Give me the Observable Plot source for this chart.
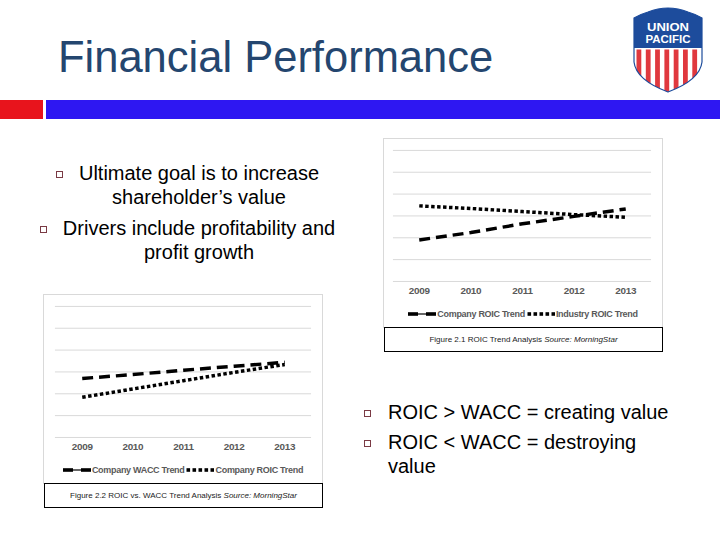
<!DOCTYPE html>
<html>
<head>
<meta charset="utf-8">
<script src="https://cdn.jsdelivr.net/npm/d3@7"></script>
<script src="https://cdn.jsdelivr.net/npm/@observablehq/plot@0.6"></script>
<style>
  html, body { margin: 0; padding: 0; background: #fff; }
  body { width: 720px; height: 540px; position: relative; overflow: hidden;
         font-family: "Liberation Sans", Arial, sans-serif; }
  #slide { position: absolute; left: 0; top: 0; }
  .frame { position: absolute; width: 280px; height: 190px; box-sizing: border-box;
           border: 1px solid #d9d9d9; background: #fff; }
  .frame svg.plot { position: absolute; left: -1px; top: -1px; overflow: visible; }
  .frame svg.plot text { letter-spacing: -0.3px; }
  .legend { position: absolute; left: -1px; width: 280px; top: 168px; height: 14px;
            display: flex; justify-content: center; align-items: center;
            font-size: 9px; font-weight: bold; color: #595959; letter-spacing: -0.3px; }
  .legend .item { display: flex; align-items: center; margin: 0 1px; }
  .legend svg { display: block; margin-right: 1px; }
  .caption { position: absolute; width: 279px; height: 25px; box-sizing: border-box;
             border: 1px solid #000; background: #fff; text-align: center;
             font-size: 8px; line-height: 23px; color: #222; white-space: nowrap; }
  .caption i { font-style: italic; }
</style>
</head>
<body>
<svg id="slide" width="720" height="540" xmlns="http://www.w3.org/2000/svg">
  <defs>
    <clipPath id="shieldClip">
      <path d="M634,18 Q641,14 648,12 Q668,4 688,12 Q695,14 702,18 L702,62 Q700,80 668,92 Q636,80 634,62 Z"/>
    </clipPath>
  </defs>
  <text x="58" y="72" font-size="43.5" fill="#24466f">Financial Performance</text>
  <rect x="0" y="100" width="43" height="19" fill="#e8141c"/>
  <rect x="46" y="100" width="674" height="19" fill="#2e17f2"/>

  <!-- Union Pacific shield -->
  <g clip-path="url(#shieldClip)">
    <rect x="630" y="4" width="76" height="92" fill="#fff"/>
    <rect x="630" y="4" width="76" height="44" fill="#1d4c9c"/>
    <g id="stripes" fill="#e0383e"></g>
  </g>
  <path d="M634,18 Q641,14 648,12 Q668,4 688,12 Q695,14 702,18 L702,62 Q700,80 668,92 Q636,80 634,62 Z"
        fill="none" stroke="#1d4c9c" stroke-width="1.2"/>
  <text x="668" y="31" font-size="10.5" font-weight="bold" fill="#fff" text-anchor="middle"
        textLength="42" lengthAdjust="spacingAndGlyphs">UNION</text>
  <text x="668" y="43" font-size="10.5" font-weight="bold" fill="#fff" text-anchor="middle"
        textLength="45" lengthAdjust="spacingAndGlyphs">PACIFIC</text>

  <!-- bullet points -->
  <g font-size="20" fill="#000">
    <rect x="56.5" y="171.5" width="6" height="6" fill="#fff" stroke="#7a3a44"/>
    <text x="199" y="180" text-anchor="middle">Ultimate goal is to increase</text>
    <text x="199" y="203.5" text-anchor="middle">shareholder’s value</text>
    <rect x="40.5" y="226.5" width="6" height="6" fill="#fff" stroke="#7a3a44"/>
    <text x="199" y="235" text-anchor="middle">Drivers include profitability and</text>
    <text x="199" y="258.5" text-anchor="middle">profit growth</text>

    <rect x="364.5" y="410.5" width="6" height="6" fill="#fff" stroke="#7a3a44"/>
    <text x="388" y="419">ROIC &gt; WACC = creating value</text>
    <rect x="364.5" y="440.5" width="6" height="6" fill="#fff" stroke="#7a3a44"/>
    <text x="388" y="449">ROIC &lt; WACC = destroying</text>
    <text x="388" y="473">value</text>
  </g>
</svg>

<script>
// Years on the category axis
const years = ["2009", "2010", "2011", "2012", "2013"];

// Figure 2.1: ROIC trend, company vs industry (%)
const companyRoic = [9.5, 11.2, 13.2, 14.9, 16.6];
const industryRoic = [17.3, 16.7, 16.0, 15.3, 14.7];

// Figure 2.2: company WACC vs company ROIC (%)
const companyWacc = [13.5, 14.4, 15.4, 16.3, 17.2];
const companyRoic2 = [9.2, 11.1, 13.0, 14.9, 16.7];

// Horizontal gridlines
const yTicks = [0, 5, 10, 15, 20, 25, 30];

const DASH = "11,6";
const DOT = "3.5,2.5";

// shield stripes
(function () {
  const g = document.getElementById("stripes");
  for (let i = 0; i < 7; i++) {
    const r = document.createElementNS("http://www.w3.org/2000/svg", "rect");
    r.setAttribute("x", 636.5 + i * 9.3);
    r.setAttribute("y", 49.5);
    r.setAttribute("width", 4.8);
    r.setAttribute("height", 46);
    g.appendChild(r);
  }
})();

function legendSample(style) {
  const ns = "http://www.w3.org/2000/svg";
  const s = document.createElementNS(ns, "svg");
  s.setAttribute("width", 28);
  s.setAttribute("height", 8);
  if (style === "dash") {
    s.innerHTML = `<line x1="0" x2="28" y1="4" y2="4" stroke="#000" stroke-width="1.2"/>
      <rect x="0" y="2.2" width="10" height="3.6" fill="#000"/>
      <rect x="18" y="2.2" width="10" height="3.6" fill="#000"/>`;
  } else {
    let h = "";
    for (let i = 0; i < 5; i++) h += `<rect x="${i * 6 + 0.5}" y="2.2" width="3.6" height="3.6" fill="#000"/>`;
    s.innerHTML = h;
  }
  return s;
}

function lineChart({left, top, marginLeft, series, caption}) {
  const frame = document.createElement("div");
  frame.className = "frame";
  frame.style.left = left + "px";
  frame.style.top = top + "px";

  const plot = Plot.plot({
    width: 280,
    height: 162,
    marginTop: 12,
    marginBottom: 18,
    marginLeft,
    marginRight: 10,
    style: {fontFamily: "Liberation Sans, Arial, sans-serif", fontSize: "10px", background: "transparent"},
    x: {type: "point", domain: years, padding: 0.5},
    y: {domain: [0, 30], axis: null},
    marks: [
      Plot.gridY(yTicks, {stroke: "#d9d9d9", strokeOpacity: 1, strokeWidth: 1}),
      Plot.axisX({tickSize: 0, tickPadding: 6, fontWeight: "bold", fill: "#595959", label: null}),
      ...series.map(s =>
        Plot.line(years.map((year, i) => ({year, value: s.values[i]})), {
          x: "year", y: "value", stroke: "#000", strokeWidth: 3.5,
          strokeDasharray: s.style === "dash" ? DASH : DOT, strokeLinecap: "butt"
        }))
    ]
  });
  plot.classList.add("plot");
  frame.appendChild(plot);

  const legend = document.createElement("div");
  legend.className = "legend";
  for (const s of series) {
    const item = document.createElement("div");
    item.className = "item";
    item.appendChild(legendSample(s.style));
    const t = document.createElement("span");
    t.textContent = s.name;
    item.appendChild(t);
    legend.appendChild(item);
  }
  frame.appendChild(legend);
  document.body.appendChild(frame);

  const cap = document.createElement("div");
  cap.className = "caption";
  cap.style.left = (left + 1) + "px";
  cap.style.top = (top + 189) + "px";
  cap.innerHTML = caption[0] + " <i>" + caption[1] + "</i>";
  document.body.appendChild(cap);
}

lineChart({
  left: 383, top: 138, marginLeft: 10,
  series: [
    {name: "Company ROIC Trend", values: companyRoic, style: "dash"},
    {name: "Industry ROIC Trend", values: industryRoic, style: "dot"}
  ],
  caption: ["Figure 2.1 ROIC Trend Analysis", "Source: MorningStar"]
});

lineChart({
  left: 43, top: 294, marginLeft: 12,
  series: [
    {name: "Company WACC Trend", values: companyWacc, style: "dash"},
    {name: "Company ROIC Trend", values: companyRoic2, style: "dot"}
  ],
  caption: ["Figure 2.2 ROIC vs. WACC Trend Analysis", "Source: MorningStar"]
});
</script>
</body>
</html>
